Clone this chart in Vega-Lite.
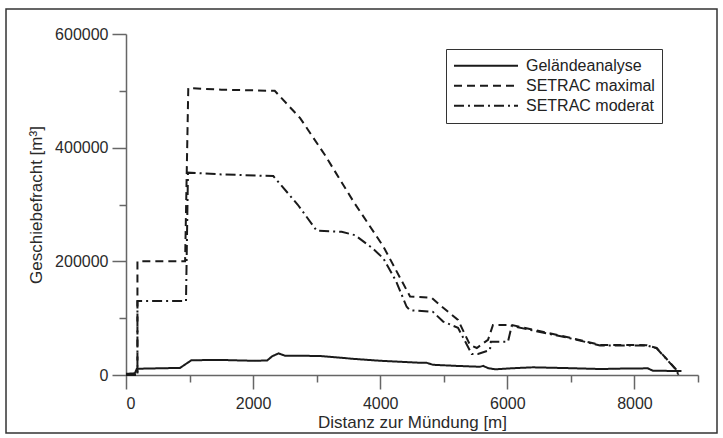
{
  "$schema": "https://vega.github.io/schema/vega-lite/v6.json",
  "width": 572,
  "height": 341,
  "autosize": "none",
  "padding": {"left": 126, "top": 34, "right": 25, "bottom": 63},
  "background": "white",
  "config": {
    "view": {"stroke": null},
    "font": "Liberation Sans",
    "axis": {
      "grid": false,
      "domainColor": "#666",
      "domainWidth": 1.5,
      "tickColor": "#666",
      "tickWidth": 1.5,
      "labelFont": "Liberation Sans",
      "labelFontSize": 16,
      "labelColor": "#2a2a2a",
      "titleFont": "Liberation Sans",
      "titleFontSize": 17,
      "titleFontWeight": "normal",
      "titleColor": "#2a2a2a"
    }
  },
  "datasets": {
    "frame": [{"name": "frame"}],
    "lines": [
      {"dist": 0, "fracht": 2000, "serie": "Geländeanalyse"},
      {"dist": 140, "fracht": 3000, "serie": "Geländeanalyse"},
      {"dist": 170, "fracht": 11000, "serie": "Geländeanalyse"},
      {"dist": 850, "fracht": 12500, "serie": "Geländeanalyse"},
      {"dist": 1030, "fracht": 26000, "serie": "Geländeanalyse"},
      {"dist": 1500, "fracht": 26500, "serie": "Geländeanalyse"},
      {"dist": 2000, "fracht": 25000, "serie": "Geländeanalyse"},
      {"dist": 2220, "fracht": 25500, "serie": "Geländeanalyse"},
      {"dist": 2300, "fracht": 33000, "serie": "Geländeanalyse"},
      {"dist": 2400, "fracht": 38000, "serie": "Geländeanalyse"},
      {"dist": 2500, "fracht": 34000, "serie": "Geländeanalyse"},
      {"dist": 3050, "fracht": 33500, "serie": "Geländeanalyse"},
      {"dist": 3570, "fracht": 28500, "serie": "Geländeanalyse"},
      {"dist": 4000, "fracht": 25000, "serie": "Geländeanalyse"},
      {"dist": 4630, "fracht": 21500, "serie": "Geländeanalyse"},
      {"dist": 4730, "fracht": 21500, "serie": "Geländeanalyse"},
      {"dist": 4830, "fracht": 18000, "serie": "Geländeanalyse"},
      {"dist": 5200, "fracht": 16000, "serie": "Geländeanalyse"},
      {"dist": 5570, "fracht": 14500, "serie": "Geländeanalyse"},
      {"dist": 5620, "fracht": 16000, "serie": "Geländeanalyse"},
      {"dist": 5700, "fracht": 12000, "serie": "Geländeanalyse"},
      {"dist": 5810, "fracht": 10000, "serie": "Geländeanalyse"},
      {"dist": 6100, "fracht": 12000, "serie": "Geländeanalyse"},
      {"dist": 6400, "fracht": 13500, "serie": "Geländeanalyse"},
      {"dist": 7000, "fracht": 12000, "serie": "Geländeanalyse"},
      {"dist": 7460, "fracht": 10500, "serie": "Geländeanalyse"},
      {"dist": 7900, "fracht": 11500, "serie": "Geländeanalyse"},
      {"dist": 8210, "fracht": 11700, "serie": "Geländeanalyse"},
      {"dist": 8290, "fracht": 7500, "serie": "Geländeanalyse"},
      {"dist": 8740, "fracht": 7000, "serie": "Geländeanalyse"},

      {"dist": 0, "fracht": 0, "serie": "SETRAC maximal"},
      {"dist": 180, "fracht": 0, "serie": "SETRAC maximal"},
      {"dist": 180, "fracht": 200000, "serie": "SETRAC maximal"},
      {"dist": 930, "fracht": 200000, "serie": "SETRAC maximal"},
      {"dist": 980, "fracht": 505000, "serie": "SETRAC maximal"},
      {"dist": 1500, "fracht": 502000, "serie": "SETRAC maximal"},
      {"dist": 2340, "fracht": 500000, "serie": "SETRAC maximal"},
      {"dist": 2740, "fracht": 452000, "serie": "SETRAC maximal"},
      {"dist": 3130, "fracht": 387000, "serie": "SETRAC maximal"},
      {"dist": 3580, "fracht": 305000, "serie": "SETRAC maximal"},
      {"dist": 4050, "fracht": 226000, "serie": "SETRAC maximal"},
      {"dist": 4470, "fracht": 138000, "serie": "SETRAC maximal"},
      {"dist": 4810, "fracht": 136000, "serie": "SETRAC maximal"},
      {"dist": 4940, "fracht": 123000, "serie": "SETRAC maximal"},
      {"dist": 5224, "fracht": 97000, "serie": "SETRAC maximal"},
      {"dist": 5412, "fracht": 53000, "serie": "SETRAC maximal"},
      {"dist": 5520, "fracht": 47500, "serie": "SETRAC maximal"},
      {"dist": 5696, "fracht": 62000, "serie": "SETRAC maximal"},
      {"dist": 5774, "fracht": 88000, "serie": "SETRAC maximal"},
      {"dist": 6068, "fracht": 88000, "serie": "SETRAC maximal"},
      {"dist": 6934, "fracht": 67000, "serie": "SETRAC maximal"},
      {"dist": 7458, "fracht": 53000, "serie": "SETRAC maximal"},
      {"dist": 8192, "fracht": 52500, "serie": "SETRAC maximal"},
      {"dist": 8350, "fracht": 47500, "serie": "SETRAC maximal"},
      {"dist": 8665, "fracht": 8800, "serie": "SETRAC maximal"},
      {"dist": 8690, "fracht": 0, "serie": "SETRAC maximal"},

      {"dist": 0, "fracht": 0, "serie": "SETRAC moderat"},
      {"dist": 180, "fracht": 0, "serie": "SETRAC moderat"},
      {"dist": 180, "fracht": 130000, "serie": "SETRAC moderat"},
      {"dist": 944, "fracht": 130000, "serie": "SETRAC moderat"},
      {"dist": 975, "fracht": 356000, "serie": "SETRAC moderat"},
      {"dist": 1500, "fracht": 353000, "serie": "SETRAC moderat"},
      {"dist": 2318, "fracht": 350000, "serie": "SETRAC moderat"},
      {"dist": 2700, "fracht": 300000, "serie": "SETRAC moderat"},
      {"dist": 3000, "fracht": 254000, "serie": "SETRAC moderat"},
      {"dist": 3393, "fracht": 252000, "serie": "SETRAC moderat"},
      {"dist": 3603, "fracht": 246000, "serie": "SETRAC moderat"},
      {"dist": 3890, "fracht": 222000, "serie": "SETRAC moderat"},
      {"dist": 4050, "fracht": 205000, "serie": "SETRAC moderat"},
      {"dist": 4250, "fracht": 165000, "serie": "SETRAC moderat"},
      {"dist": 4416, "fracht": 120000, "serie": "SETRAC moderat"},
      {"dist": 4468, "fracht": 114000, "serie": "SETRAC moderat"},
      {"dist": 4830, "fracht": 111000, "serie": "SETRAC moderat"},
      {"dist": 4990, "fracht": 94000, "serie": "SETRAC moderat"},
      {"dist": 5224, "fracht": 83000, "serie": "SETRAC moderat"},
      {"dist": 5440, "fracht": 37000, "serie": "SETRAC moderat"},
      {"dist": 5538, "fracht": 37000, "serie": "SETRAC moderat"},
      {"dist": 5727, "fracht": 44000, "serie": "SETRAC moderat"},
      {"dist": 5740, "fracht": 58600, "serie": "SETRAC moderat"},
      {"dist": 6010, "fracht": 58600, "serie": "SETRAC moderat"},
      {"dist": 6068, "fracht": 86200, "serie": "SETRAC moderat"},
      {"dist": 6671, "fracht": 72000, "serie": "SETRAC moderat"},
      {"dist": 6934, "fracht": 66000, "serie": "SETRAC moderat"},
      {"dist": 7458, "fracht": 52000, "serie": "SETRAC moderat"},
      {"dist": 8192, "fracht": 52000, "serie": "SETRAC moderat"},
      {"dist": 8350, "fracht": 47000, "serie": "SETRAC moderat"},
      {"dist": 8665, "fracht": 8000, "serie": "SETRAC moderat"},
      {"dist": 8690, "fracht": 0, "serie": "SETRAC moderat"}
    ]
  },
  "layer": [
    {
      "data": {"name": "frame"},
      "mark": {"type": "rect", "fillOpacity": 0, "stroke": "#333", "strokeWidth": 1.5, "clip": false},
      "encoding": {
        "x": {"datum": -1888, "type": "quantitative", "scale": {"domain": [0, 9000], "nice": false, "zero": false}},
        "x2": {"datum": 9299},
        "y": {"datum": 643988, "type": "quantitative", "scale": {"domain": [0, 600000], "nice": false}},
        "y2": {"datum": -102053}
      }
    },
    {
      "data": {"name": "lines"},
      "mark": {"type": "line", "strokeWidth": 2, "color": "#1a1a1a"},
      "encoding": {
        "x": {
          "field": "dist",
          "type": "quantitative",
          "scale": {"domain": [0, 9000], "nice": false, "zero": false},
          "axis": {
            "title": "Distanz zur Mündung [m]",
            "values": [0, 1000, 2000, 3000, 4000, 5000, 6000, 7000, 8000, 9000],
            "labelExpr": "datum.value % 2000 === 0 ? datum.value : ''",
            "tickSize": {"condition": {"test": "datum.value % 2000 === 0", "value": 14}, "value": 7},
            "labelPadding": 6,
            "titlePadding": 3
          }
        },
        "y": {
          "field": "fracht",
          "type": "quantitative",
          "scale": {"domain": [0, 600000], "nice": false},
          "axis": {
            "title": "Geschiebefracht [m³]",
            "values": [0, 100000, 200000, 300000, 400000, 500000, 600000],
            "labelExpr": "datum.value % 200000 === 0 ? datum.value : ''",
            "tickSize": {"condition": {"test": "datum.value % 200000 === 0", "value": 14}, "value": 7},
            "labelPadding": 4,
            "titlePadding": 9
          }
        },
        "strokeDash": {
          "field": "serie",
          "type": "nominal",
          "scale": {
            "domain": ["Geländeanalyse", "SETRAC maximal", "SETRAC moderat"],
            "range": [[1, 0], [8, 5], [10, 4, 2, 4]]
          },
          "legend": {
            "title": null,
            "orient": "none",
            "legendX": 320,
            "legendY": 15,
            "symbolType": "stroke",
            "symbolSize": 4096,
            "symbolStrokeWidth": 2,
            "symbolStrokeColor": "#1a1a1a",
            "clipHeight": 19.5,
            "rowPadding": 0,
            "labelFont": "Liberation Sans",
            "labelFontSize": 16,
            "labelColor": "#222",
            "labelOffset": 7,
            "padding": 7,
            "strokeColor": "#333",
            "fillColor": "white"
          }
        }
      }
    }
  ]
}
